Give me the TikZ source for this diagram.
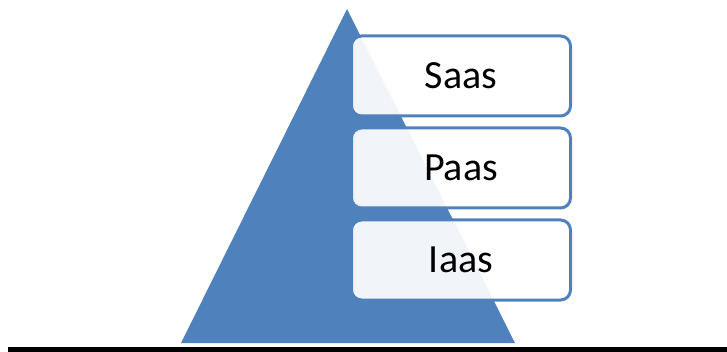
\documentclass[tikz,border=0pt]{standalone}
\usepackage{fontspec}
\setmainfont{Carlito}
\definecolor{pyrblue}{HTML}{4F81BD}

\begin{document}
\begin{tikzpicture}[x=1pt,y=-1pt,layer/.style = {draw=pyrblue, line width=3pt, rounded corners=10pt, fill=white, fill opacity=0.92, text opacity=1, minimum width=219pt, minimum height=80pt, font=\fontsize{40}{48}\selectfont},node distance={92pt}]
\useasboundingbox (0,0) rectangle (727,352);
\fill[pyrblue] (347,9) -- (515,343) -- (181,343) -- cycle;
\node[layer] (saas) at (461,76) {Saas};
\node[layer] (paas) [below of=saas] {Paas};
\node[layer] (iaas) [below of=paas] {Iaas};
\fill[black] (8,347) rectangle (727,352);
\end{tikzpicture}
\end{document}
